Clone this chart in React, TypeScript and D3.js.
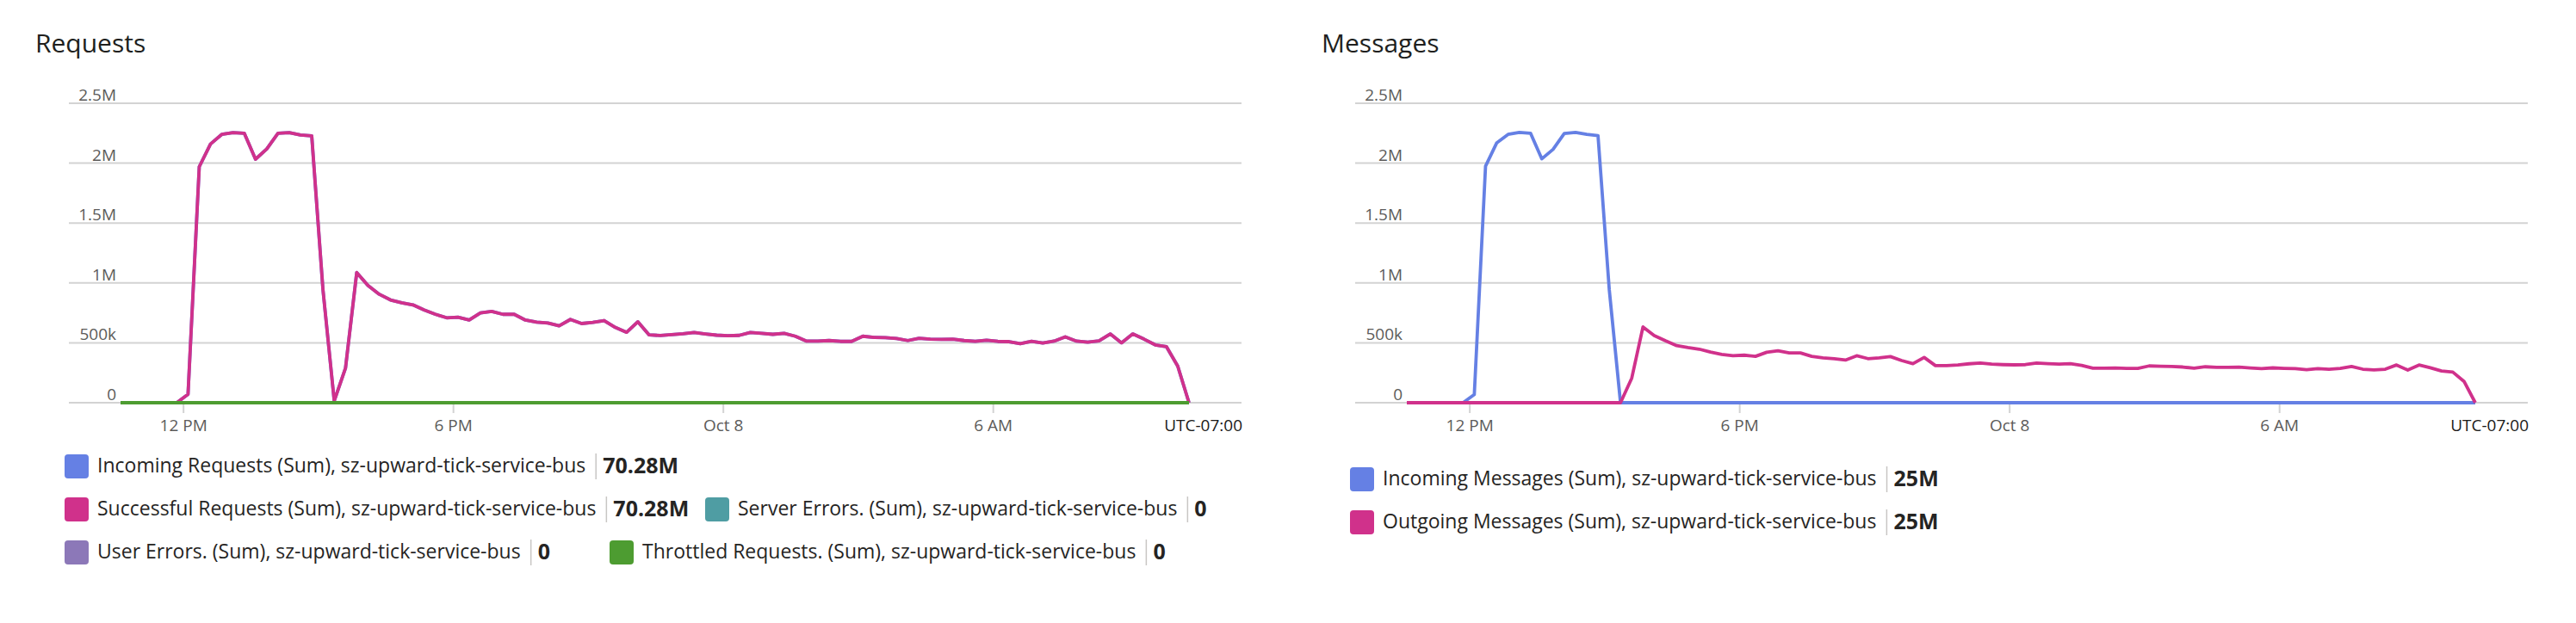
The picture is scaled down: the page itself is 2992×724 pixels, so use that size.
import React, { useRef, useEffect } from "react";
import * as d3 from "d3";

// 15 minute grain, first bucket at 10:36 on Oct 7
const startTime = new Date(2023, 9, 7, 10, 36);
const times = d3.range(96).map((i) => d3.timeMinute.offset(startTime, i * 15));

const yTicks = [0, 500000, 1000000, 1500000, 2000000, 2500000];
const yTickLabels = ["0", "500k", "1M", "1.5M", "2M", "2.5M"];
const xTickTimes = [
  new Date(2023, 9, 7, 12),
  new Date(2023, 9, 7, 18),
  new Date(2023, 9, 8, 0),
  new Date(2023, 9, 8, 6),
];
const xTickLabels = ["12 PM", "6 PM", "Oct 8", "6 AM"];

const incomingRequests = [
  0, 0, 0, 0, 0, 0, 70000, 1970000, 2160000, 2240000, 2255000, 2250000,
  2033000, 2118000, 2250000, 2255000, 2235000, 2228000, 942000, 15000, 288000,
  1087000, 978000, 906000, 858000, 834000, 817000, 774000, 738000, 709000,
  714000, 690000, 750000, 762000, 738000, 738000, 690000, 673000, 666000,
  642000, 695000, 661000, 671000, 686000, 628000, 588000, 676000, 566000,
  561000, 568000, 575000, 586000, 574000, 564000, 560000, 562000, 586000,
  579000, 571000, 579000, 555000, 514000, 514000, 519000, 512000, 512000,
  555000, 545000, 543000, 536000, 519000, 538000, 531000, 529000, 531000,
  519000, 512000, 521000, 512000, 510000, 493000, 512000, 498000, 514000,
  550000, 514000, 505000, 517000, 574000, 500000, 574000, 531000, 483000,
  467000, 305000, 0,
];
// same totals as incoming (70.28M each)
const successfulRequests = incomingRequests;
const serverErrors = incomingRequests.map(() => 0);
const userErrors = incomingRequests.map(() => 0);
const throttledRequests = incomingRequests.map(() => 0);

const incomingMessages = [
  0, 0, 0, 0, 0, 0, 68000, 1975000, 2170000, 2240000, 2257000, 2250000,
  2036000, 2115000, 2247000, 2257000, 2240000, 2230000, 945000, 0, 0, 0, 0, 0,
  0, 0, 0, 0, 0, 0, 0, 0, 0, 0, 0, 0, 0, 0, 0, 0, 0, 0, 0, 0, 0, 0, 0, 0, 0,
  0, 0, 0, 0, 0, 0, 0, 0, 0, 0, 0, 0, 0, 0, 0, 0, 0, 0, 0, 0, 0, 0, 0, 0, 0,
  0, 0, 0, 0, 0, 0, 0, 0, 0, 0, 0, 0, 0, 0, 0, 0, 0, 0, 0, 0, 0, 0,
];
const outgoingMessages = [
  0, 0, 0, 0, 0, 0, 0, 0, 0, 0, 0, 0, 0, 0, 0, 0, 0, 0, 0, 0, 205000, 633000,
  561000, 517000, 476000, 460000, 447000, 423000, 404000, 392000, 397000,
  387000, 421000, 433000, 416000, 416000, 387000, 375000, 368000, 356000,
  392000, 368000, 375000, 385000, 352000, 326000, 378000, 310000, 310000,
  315000, 325000, 332000, 322000, 318000, 316000, 318000, 332000, 326000,
  322000, 326000, 312000, 288000, 288000, 290000, 287000, 287000, 307000,
  305000, 303000, 298000, 288000, 300000, 296000, 295000, 297000, 290000,
  285000, 291000, 287000, 285000, 275000, 285000, 279000, 287000, 303000,
  280000, 274000, 280000, 315000, 273000, 315000, 292000, 265000, 256000,
  178000, 0,
];

const requestNames = [
  "Incoming Requests (Sum), sz-upward-tick-service-bus",
  "Successful Requests (Sum), sz-upward-tick-service-bus",
  "Server Errors. (Sum), sz-upward-tick-service-bus",
  "User Errors. (Sum), sz-upward-tick-service-bus",
  "Throttled Requests. (Sum), sz-upward-tick-service-bus",
];
const requestTotals = ["70.28M", "70.28M", "0", "0", "0"];
const messageNames = [
  "Incoming Messages (Sum), sz-upward-tick-service-bus",
  "Outgoing Messages (Sum), sz-upward-tick-service-bus",
];
const messageTotals = ["25M", "25M"];

const BLUE = "#6580e4";
const PINK = "#d0318b";
const TEAL = "#4f9da3";
const PURPLE = "#8c78b8";
const GREEN = "#4d9c31";

const FONT = "'Segoe UI', 'Open Sans', sans-serif";
const PANEL_OFFSET = 1494;

type Panel = {
  title: string;
  series: { name: string; total: string; color: string; values: number[] }[];
  rows: { top: number; items: { idx: number; x: number }[] }[];
};

const panels: Panel[] = [
  {
    title: "Requests",
    series: [
      { name: requestNames[0], total: requestTotals[0], color: BLUE, values: incomingRequests },
      { name: requestNames[1], total: requestTotals[1], color: PINK, values: successfulRequests },
      { name: requestNames[2], total: requestTotals[2], color: TEAL, values: serverErrors },
      { name: requestNames[3], total: requestTotals[3], color: PURPLE, values: userErrors },
      { name: requestNames[4], total: requestTotals[4], color: GREEN, values: throttledRequests },
    ],
    rows: [
      { top: 528, items: [{ idx: 0, x: 75 }] },
      { top: 578, items: [{ idx: 1, x: 75 }, { idx: 2, x: 819 }] },
      { top: 628, items: [{ idx: 3, x: 75 }, { idx: 4, x: 708 }] },
    ],
  },
  {
    title: "Messages",
    series: [
      { name: messageNames[0], total: messageTotals[0], color: BLUE, values: incomingMessages },
      { name: messageNames[1], total: messageTotals[1], color: PINK, values: outgoingMessages },
    ],
    rows: [
      { top: 543, items: [{ idx: 0, x: 74 }] },
      { top: 593, items: [{ idx: 1, x: 74 }] },
    ],
  },
];

const App: React.FC = () => {
  const svgRef = useRef<SVGSVGElement | null>(null);

  useEffect(() => {
    if (!svgRef.current) return;
    const svg = d3.select(svgRef.current);
    svg.selectAll("*").remove();

    const x = d3.scaleTime().domain([times[0], times[times.length - 1]]).range([140, 1381]);
    const y = d3.scaleLinear().domain([0, 2500000]).range([468, 120]);

    panels.forEach((panel, k) => {
      const g = svg.append("g").attr("transform", `translate(${k * PANEL_OFFSET},0)`);

      g.append("text")
        .attr("x", 41)
        .attr("y", 61)
        .attr("font-size", 30)
        .attr("fill", "#201f1e")
        .text(panel.title);

      // gridlines + y labels
      yTicks.forEach((v, i) => {
        g.append("line")
          .attr("x1", 80)
          .attr("x2", 1442)
          .attr("y1", y(v))
          .attr("y2", y(v))
          .attr("stroke", "#d3d3d3")
          .attr("stroke-width", 2);
        g.append("text")
          .attr("x", 135)
          .attr("y", y(v) - 3)
          .attr("text-anchor", "end")
          .attr("font-size", 19)
          .attr("fill", "#5c5b5a")
          .text(yTickLabels[i]);
      });

      // x ticks
      xTickTimes.forEach((t, i) => {
        g.append("line")
          .attr("x1", x(t))
          .attr("x2", x(t))
          .attr("y1", 469)
          .attr("y2", 480)
          .attr("stroke", "#d3d3d3")
          .attr("stroke-width", 2);
        g.append("text")
          .attr("x", x(t))
          .attr("y", 501)
          .attr("text-anchor", "middle")
          .attr("font-size", 19)
          .attr("fill", "#5c5b5a")
          .text(xTickLabels[i]);
      });
      g.append("text")
        .attr("x", 1443)
        .attr("y", 501)
        .attr("text-anchor", "end")
        .attr("font-size", 19)
        .attr("fill", "#1b1a19")
        .text("UTC-07:00");

      const line = d3
        .line<number>()
        .x((_, i) => x(times[i]))
        .y((d) => y(d));

      panel.series.forEach((s) => {
        g.append("path")
          .attr("d", line(s.values)!)
          .attr("fill", "none")
          .attr("stroke", s.color)
          .attr("stroke-width", 3.8)
          .attr("stroke-linejoin", "round");
      });

      // legend
      panel.rows.forEach((row) => {
        row.items.forEach((it) => {
          const s = panel.series[it.idx];
          const lg = g.append("g").attr("transform", `translate(${it.x},${row.top})`);
          lg.append("rect")
            .attr("width", 28)
            .attr("height", 28)
            .attr("rx", 4)
            .attr("fill", s.color);
          const label = lg
            .append("text")
            .attr("x", 38)
            .attr("y", 21)
            .attr("font-size", 23)
            .attr("fill", "#252423")
            .text(s.name);
          const w = (label.node() as SVGTextElement).getComputedTextLength();
          const sepX = 38 + w + 12;
          lg.append("line")
            .attr("x1", sepX)
            .attr("x2", sepX)
            .attr("y1", -1)
            .attr("y2", 29)
            .attr("stroke", "#c8c6c4")
            .attr("stroke-width", 1.5);
          lg.append("text")
            .attr("x", sepX + 8)
            .attr("y", 22)
            .attr("font-size", 25)
            .attr("font-weight", 700)
            .attr("fill", "#252423")
            .text(s.total);
        });
      });
    });
  }, []);

  return (
    <svg
      ref={svgRef}
      width={2992}
      height={724}
      style={{ position: "absolute", left: 0, top: 0, background: "#fff", fontFamily: FONT }}
    ></svg>
  );
};

export default App;
